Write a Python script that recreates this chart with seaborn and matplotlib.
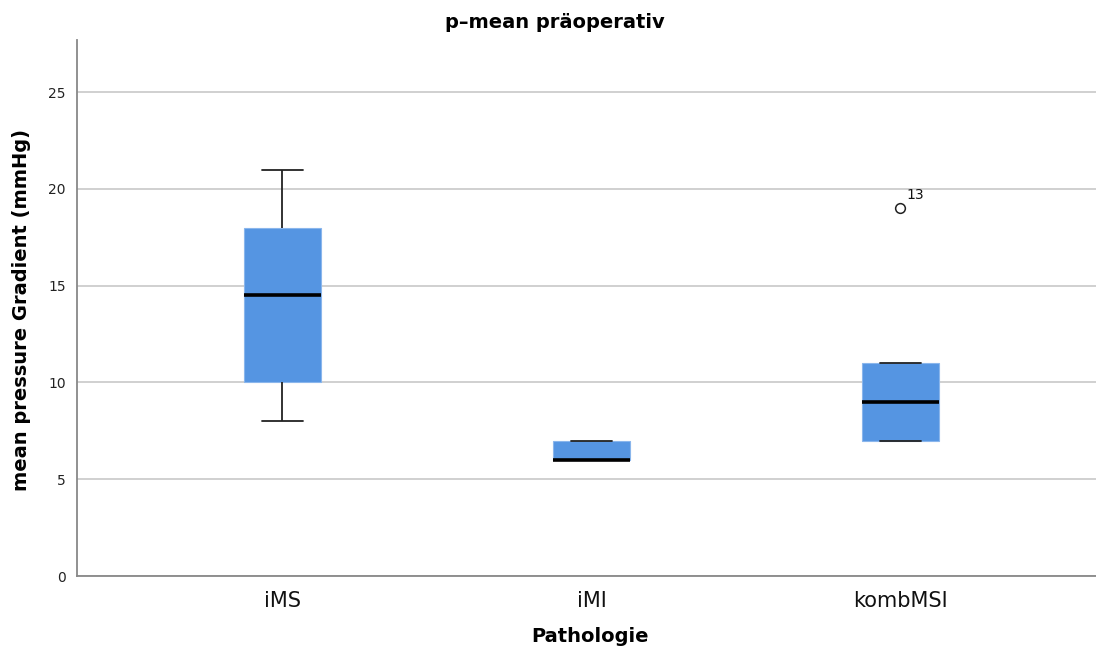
import matplotlib
matplotlib.use("Agg")
import matplotlib.pyplot as plt
import seaborn as sns
import pandas as pd

# Preoperative mean pressure gradient per pathology group
categories = ["iMS", "iMI", "kombMSI"]
ims_values = [8, 10, 14.5, 18, 21]
imi_values = [6, 6, 6, 7, 7]
kombmsi_values = [7, 7, 7, 9, 11, 11, 19]
kombmsi_cases = [3, 5, 8, 10, 11, 12, 13]

y_ticks = [0, 5, 10, 15, 20, 25]

df = pd.DataFrame({
    "Pathologie": (["iMS"] * len(ims_values) + ["iMI"] * len(imi_values)
                   + ["kombMSI"] * len(kombmsi_values)),
    "p_mean": ims_values + imi_values + kombmsi_values,
})

sns.set_style("white")
plt.rcParams["font.family"] = ["DejaVu Sans"]
plt.rcParams["text.color"] = "black"

fig = plt.figure(figsize=(10.96, 6.49), dpi=100)
ax = fig.add_axes([77 / 1096, 1 - 576 / 649, (1096 - 77) / 1096, (576 - 40) / 649])

box_color = "#5595E2"
sns.boxplot(
    data=df, x="Pathologie", y="p_mean", order=categories, ax=ax,
    color=box_color, saturation=1, width=0.25, whis=1.5,
    boxprops=dict(facecolor=box_color, edgecolor="#8ab6ec", linewidth=0.8),
    medianprops=dict(color="black", linewidth=2.6),
    whiskerprops=dict(color="#222222", linewidth=1.3),
    capprops=dict(color="#222222", linewidth=1.3),
    flierprops=dict(marker="o", markersize=7, markerfacecolor="white",
                    markeredgecolor="#222222", markeredgewidth=1.1),
    capwidths=0.13, zorder=3,
)

# Label the outlier with its case number
q = pd.Series(kombmsi_values).quantile([0.25, 0.75])
iqr = q[0.75] - q[0.25]
hi = q[0.75] + 1.5 * iqr
lo = q[0.25] - 1.5 * iqr
xpos = categories.index("kombMSI")
for v, c in zip(kombmsi_values, kombmsi_cases):
    if v > hi or v < lo:
        ax.text(xpos + 0.018, v + 0.35, str(c), fontsize=10, ha="left",
                va="bottom", color="#111111")

ax.set_xlim(-0.665, 2.633)
ax.set_ylim(0, 27.7)
ax.set_yticks(y_ticks)
ax.set_yticklabels([str(t) for t in y_ticks], fontsize=10, color="#222222")
ax.tick_params(axis="x", labelsize=15, length=0, pad=11, colors="#111111")
ax.tick_params(axis="y", length=0, pad=8)
ax.yaxis.grid(True, color="#c8c8c8", linewidth=1.2, zorder=0)
ax.set_axisbelow(True)

for side in ["top", "right"]:
    ax.spines[side].set_visible(False)
for side in ["left", "bottom"]:
    ax.spines[side].set_color("#888888")
    ax.spines[side].set_linewidth(1.3)

ax.set_xlabel("")
ax.set_ylabel("")
fig.text(555 / 1096, 1 - 22 / 649, "p\u2013mean präoperativ", ha="center",
         va="center", fontsize=14, fontweight="bold", color="black")
fig.text(590 / 1096, 1 - 637 / 649, "Pathologie", ha="center", va="center",
         fontsize=14, fontweight="bold", color="black")
fig.text(22 / 1096, 1 - 310 / 649, "mean pressure Gradient (mmHg)", ha="center",
         va="center", rotation=90, fontsize=14, fontweight="bold", color="black")

fig.savefig("out.png", dpi=100, facecolor="white")
